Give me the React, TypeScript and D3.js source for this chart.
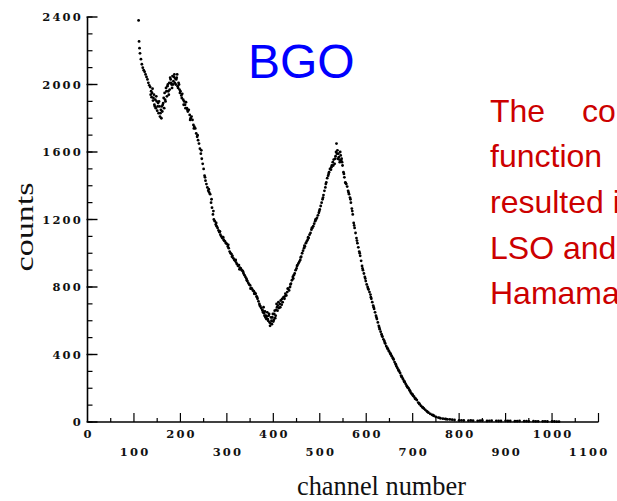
import React from "react";
import * as d3 from "d3";

const W = 617;
const H = 501;

// Y ticks (counts) and X ticks (channel number)
const yMajorTicks = [0, 400, 800, 1200, 1600, 2000, 2400];
const yMinorTicks = d3.range(0, 2401, 100);
const xUpperLabels = [0, 200, 400, 600, 800, 1000];
const xLowerLabels = [100, 300, 500, 700, 900, 1100];
const xMajorTicks = d3.range(100, 1101, 100);
const xMinorTicks = d3.range(50, 1100, 100);

const title = "BGO";
const sideTextLines = ["The", "function", "resulted in", "LSO and", "Hamamatsu"];
const sideTextExtra = "co";

// BGO energy spectrum: [channel, counts]
const bgoSpectrum: [number, number][] = [
  [110, 2380], [111, 2255], [112, 2215], [113, 2185], [115, 2150], [117, 2120], [119, 2100],
  [121, 2085], [123, 2075], [125, 2060], [127, 2045], [129, 2030], [131, 2010], [133, 1995],
  [135, 1985], [137, 1960], [138, 1925], [140, 1975], [141, 1905], [143, 1940], [144, 1880],
  [146, 1910], [147, 1860], [149, 1900], [150, 1845], [152, 1890], [153, 1830], [155, 1870],
  [156, 1810], [158, 1850], [159, 1800], [161, 1840], [162, 1880], [164, 1920], [165, 1860],
  [166, 1950], [168, 1900], [169, 1980], [171, 1930], [172, 1990], [174, 1960], [176, 2010],
  [177, 1970], [179, 2030], [181, 2000], [183, 2050], [185, 2020], [187, 2060], [189, 2035],
  [190, 2000], [192, 2040], [194, 1990], [196, 2010], [198, 1970], [200, 1960], [202, 1935],
  [204, 1945], [206, 1910], [208, 1900], [210, 1880], [212, 1895], [214, 1860], [216, 1840],
  [218, 1850], [220, 1820], [222, 1800], [224, 1810], [226, 1790], [228, 1760], [230, 1750],
  [232, 1740], [234, 1710], [236, 1690], [238, 1670], [240, 1650], [242, 1620], [244, 1590],
  [246, 1560], [248, 1530], [250, 1500], [252, 1460], [254, 1430], [256, 1410], [258, 1390],
  [260, 1370], [262, 1360], [264, 1350], [266, 1300], [268, 1270], [270, 1230], [272, 1200],
  [274, 1190], [276, 1170], [278, 1160], [280, 1150], [282, 1135], [284, 1125], [286, 1110],
  [288, 1100], [290, 1090], [292, 1095], [294, 1075], [296, 1070], [298, 1060], [300, 1055],
  [302, 1040], [304, 1030], [306, 1010], [308, 1000], [310, 995], [312, 985], [314, 970],
  [316, 960], [318, 955], [320, 945], [322, 935], [324, 925], [326, 930], [328, 915],
  [330, 910], [332, 900], [334, 895], [336, 880], [338, 870], [340, 860], [342, 850],
  [344, 835], [346, 825], [348, 815], [350, 810], [352, 795], [354, 790], [356, 780],
  [358, 775], [360, 765], [362, 760], [364, 745], [366, 730], [368, 715], [370, 700],
  [372, 685], [374, 675], [376, 665], [378, 650], [380, 645], [382, 655], [384, 630],
  [386, 625], [388, 610], [390, 630], [392, 590], [394, 585], [396, 600], [398, 620],
  [400, 595], [402, 640], [404, 615], [406, 665], [408, 680], [410, 690], [412, 675],
  [414, 700], [416, 720], [418, 695], [420, 710], [422, 740], [424, 730], [426, 760],
  [428, 750], [430, 770], [432, 790], [434, 780], [436, 800], [438, 820], [440, 840],
  [442, 860], [444, 870], [446, 880], [448, 900], [450, 910], [452, 930], [454, 940],
  [456, 950], [458, 960], [460, 980], [462, 1000], [464, 1015], [466, 1030], [468, 1040],
  [470, 1060], [472, 1070], [474, 1080], [476, 1090], [478, 1110], [480, 1120], [482, 1140],
  [484, 1150], [486, 1160], [488, 1175], [490, 1190], [492, 1200], [494, 1210], [496, 1225],
  [498, 1240], [500, 1260], [502, 1280], [504, 1300], [506, 1320], [508, 1345], [510, 1370],
  [512, 1390], [514, 1420], [516, 1445], [518, 1460], [520, 1480], [522, 1500], [524, 1495],
  [526, 1520], [528, 1540], [530, 1555], [532, 1530], [534, 1575], [536, 1650], [537, 1590],
  [539, 1560], [541, 1570], [543, 1540], [545, 1580], [547, 1560], [549, 1520], [551, 1480],
  [553, 1450], [555, 1420], [557, 1410], [559, 1395], [561, 1370], [563, 1350], [565, 1330],
  [567, 1300], [569, 1265], [571, 1230], [573, 1180], [575, 1150], [577, 1120], [579, 1090],
  [581, 1060], [583, 1035], [585, 1010], [587, 985], [589, 955], [591, 925], [593, 900],
  [595, 880], [597, 860], [599, 835], [601, 815], [603, 800], [605, 785], [607, 770],
  [609, 755], [611, 730], [613, 710], [615, 690], [617, 670], [619, 650], [621, 630],
  [623, 610], [625, 590], [627, 570], [629, 550], [631, 535], [633, 520], [635, 505],
  [637, 490], [639, 480], [641, 465], [643, 450], [645, 440], [647, 430], [649, 420],
  [651, 410], [653, 400], [655, 390], [657, 380], [659, 370], [661, 355], [663, 345],
  [665, 330], [667, 320], [669, 310], [671, 300], [673, 290], [675, 275], [677, 265],
  [679, 255], [681, 245], [683, 235], [685, 225], [687, 215], [689, 205], [691, 200],
  [693, 190], [695, 180], [697, 170], [699, 165], [701, 155], [703, 150], [705, 140],
  [707, 135], [709, 130], [712, 115], [715, 105], [718, 95], [721, 88], [724, 80],
  [727, 72], [730, 65], [734, 55], [738, 48], [742, 42], [746, 36], [750, 30],
  [755, 26], [760, 22], [765, 20], [770, 18], [775, 16], [780, 15], [790, 12],
  [800, 10], [810, 9], [820, 8], [830, 8], [840, 7], [850, 9], [860, 6], [870, 8],
  [880, 7], [890, 6], [900, 7], [910, 6], [920, 5], [930, 6], [940, 5], [950, 4],
  [960, 5], [970, 4], [980, 4], [990, 3], [1000, 3], [1010, 2], [1015, 2],
];

// Extra scattered points (noisy regions of the spectrum)
const bgoScatter: [number, number][] = [
  [136, 1940], [139, 1950], [142, 1920], [145, 1870], [148, 1930], [151, 1870], [154, 1900],
  [157, 1830], [160, 1870], [163, 1890], [167, 1910], [170, 1960], [173, 2000], [175, 1940],
  [178, 2040], [180, 2010], [182, 1980], [184, 2000], [186, 2045], [188, 2010], [191, 2030],
  [193, 2060], [195, 1980], [197, 2000], [199, 1950], [203, 1920], [207, 1880], [211, 1860],
  [215, 1850], [221, 1790], [229, 1740], [237, 1700], [245, 1610], [253, 1450], [261, 1380],
  [267, 1320], [271, 1250], [277, 1180], [285, 1130], [293, 1080], [303, 1050], [311, 980],
  [319, 960], [327, 905], [335, 890], [343, 840], [351, 790], [359, 760], [365, 740],
  [371, 690], [377, 660], [379, 680], [381, 630], [383, 620], [385, 610], [387, 650],
  [389, 600], [391, 640], [393, 570], [395, 620], [397, 580], [399, 640], [401, 605],
  [403, 660], [405, 630], [407, 700], [409, 660], [411, 710], [415, 680], [419, 730],
  [425, 745], [431, 790], [437, 815], [443, 850], [451, 925], [459, 975], [467, 1045],
  [475, 1095], [483, 1150], [491, 1200], [499, 1250], [507, 1330], [513, 1410], [519, 1470],
  [525, 1510], [529, 1520], [533, 1560], [535, 1600], [538, 1610], [540, 1590], [542, 1555],
  [544, 1600], [546, 1550], [548, 1540], [552, 1470], [556, 1415], [562, 1360], [566, 1320],
  [570, 1250], [574, 1165], [580, 1075], [586, 1000], [592, 910], [598, 850], [604, 790],
  [610, 740], [616, 680], [622, 620], [628, 560], [634, 510], [640, 470], [646, 435],
  [652, 405], [658, 375], [664, 340], [670, 305], [676, 270], [682, 240], [688, 210],
  [694, 185], [700, 160], [706, 138], [714, 110], [722, 85], [732, 60], [744, 40],
  [758, 24], [772, 17], [785, 14], [805, 10], [825, 9], [845, 8], [865, 7], [885, 6],
  [905, 6], [925, 5], [945, 5], [965, 4], [985, 4], [1005, 3],
];

export default function App() {
  const x = d3.scaleLinear().domain([0, 1100]).range([87.5, 598.5]);
  const y = d3.scaleLinear().domain([0, 2400]).range([422, 17]);
  const tickFont = "'DejaVu Serif', serif";
  const ls = 2.2;

  return (
    <svg
      width={W}
      height={H}
      style={{ position: "absolute", left: 0, top: 0, background: "#fff" }}
    >
      <rect x={0} y={0} width={W} height={H} fill="#fff" />

      {/* Y axis */}
      <line x1={x(0)} x2={x(0)} y1={y(2400)} y2={y(0)} stroke="#000" strokeWidth={1.6} />
      {yMinorTicks.map((t) => (
        <line key={"ym" + t} x1={x(0)} x2={x(0) + 5} y1={y(t)} y2={y(t)} stroke="#000" strokeWidth={1.2} />
      ))}
      {yMajorTicks.map((t) => (
        <line key={"yM" + t} x1={x(0) - 1} x2={x(0) + 10} y1={y(t)} y2={y(t)} stroke="#000" strokeWidth={1.4} />
      ))}
      {yMajorTicks.map((t) => (
        <text
          key={"yl" + t}
          x={83}
          y={y(t)}
          dy="0.36em"
          textAnchor="end"
          fontFamily={tickFont}
          fontWeight="bold"
          fontSize={11.5}
          letterSpacing={ls}
          fill="#111"
        >
          {t}
        </text>
      ))}

      {/* X axis */}
      <line x1={x(0)} x2={x(1100)} y1={y(0)} y2={y(0)} stroke="#000" strokeWidth={1.6} />
      {xMajorTicks.map((t) => (
        <line key={"xM" + t} x1={x(t)} x2={x(t)} y1={y(0)} y2={y(0) - 9} stroke="#000" strokeWidth={1.2} />
      ))}
      {xMinorTicks.map((t) => (
        <line key={"xm" + t} x1={x(t)} x2={x(t)} y1={y(0)} y2={y(0) - 4} stroke="#000" strokeWidth={1.2} />
      ))}
      {xUpperLabels.map((t) => (
        <text
          key={"xu" + t}
          x={x(t) + ls / 2}
          y={438}
          textAnchor="middle"
          fontFamily={tickFont}
          fontWeight="bold"
          fontSize={11.5}
          letterSpacing={ls}
          fill="#111"
        >
          {t}
        </text>
      ))}
      {xLowerLabels.map((t, i) => {
        const last = i === xLowerLabels.length - 1;
        return (
          <text
            key={"xl" + t}
            x={last ? x(t) + 11 : x(t) + ls / 2}
            y={456}
            textAnchor={last ? "end" : "middle"}
            fontFamily={tickFont}
            fontWeight="bold"
            fontSize={11.5}
            letterSpacing={ls}
            fill="#111"
          >
            {t}
          </text>
        );
      })}

      {/* Axis titles */}
      <text
        transform={`translate(33, 227) rotate(-90)`}
        textAnchor="middle"
        fontFamily="'Liberation Serif', 'Times New Roman', serif"
        fontSize={26}
        textLength={89}
        lengthAdjust="spacingAndGlyphs"
        fill="#111"
      >
        counts
      </text>
      <text
        x={297}
        y={495}
        fontFamily="'Liberation Serif', 'Times New Roman', serif"
        fontSize={28}
        textLength={169}
        lengthAdjust="spacingAndGlyphs"
        fill="#111"
      >
        channel number
      </text>

      {/* Data points */}
      {bgoSpectrum.concat(bgoScatter).map(([c, v], i) => (
        <circle key={"p" + i} cx={x(c)} cy={y(v)} r={1.4} fill="#000" />
      ))}

      {/* Title */}
      <text
        x={248}
        y={78}
        fontFamily="'Liberation Sans', Arial, sans-serif"
        fontSize={48}
        fill="#0000ff"
      >
        {title}
      </text>

      {/* Side text (clipped at the right edge) */}
      {sideTextLines.map((line, i) => (
        <text
          key={"st" + i}
          x={490}
          y={121.7 + i * 45.6}
          fontFamily="'Liberation Sans', Arial, sans-serif"
          fontSize={32}
          fill="#cc0000"
        >
          {line}
        </text>
      ))}
      <text
        x={582}
        y={121.7}
        fontFamily="'Liberation Sans', Arial, sans-serif"
        fontSize={32}
        fill="#cc0000"
      >
        {sideTextExtra}
      </text>
    </svg>
  );
}
